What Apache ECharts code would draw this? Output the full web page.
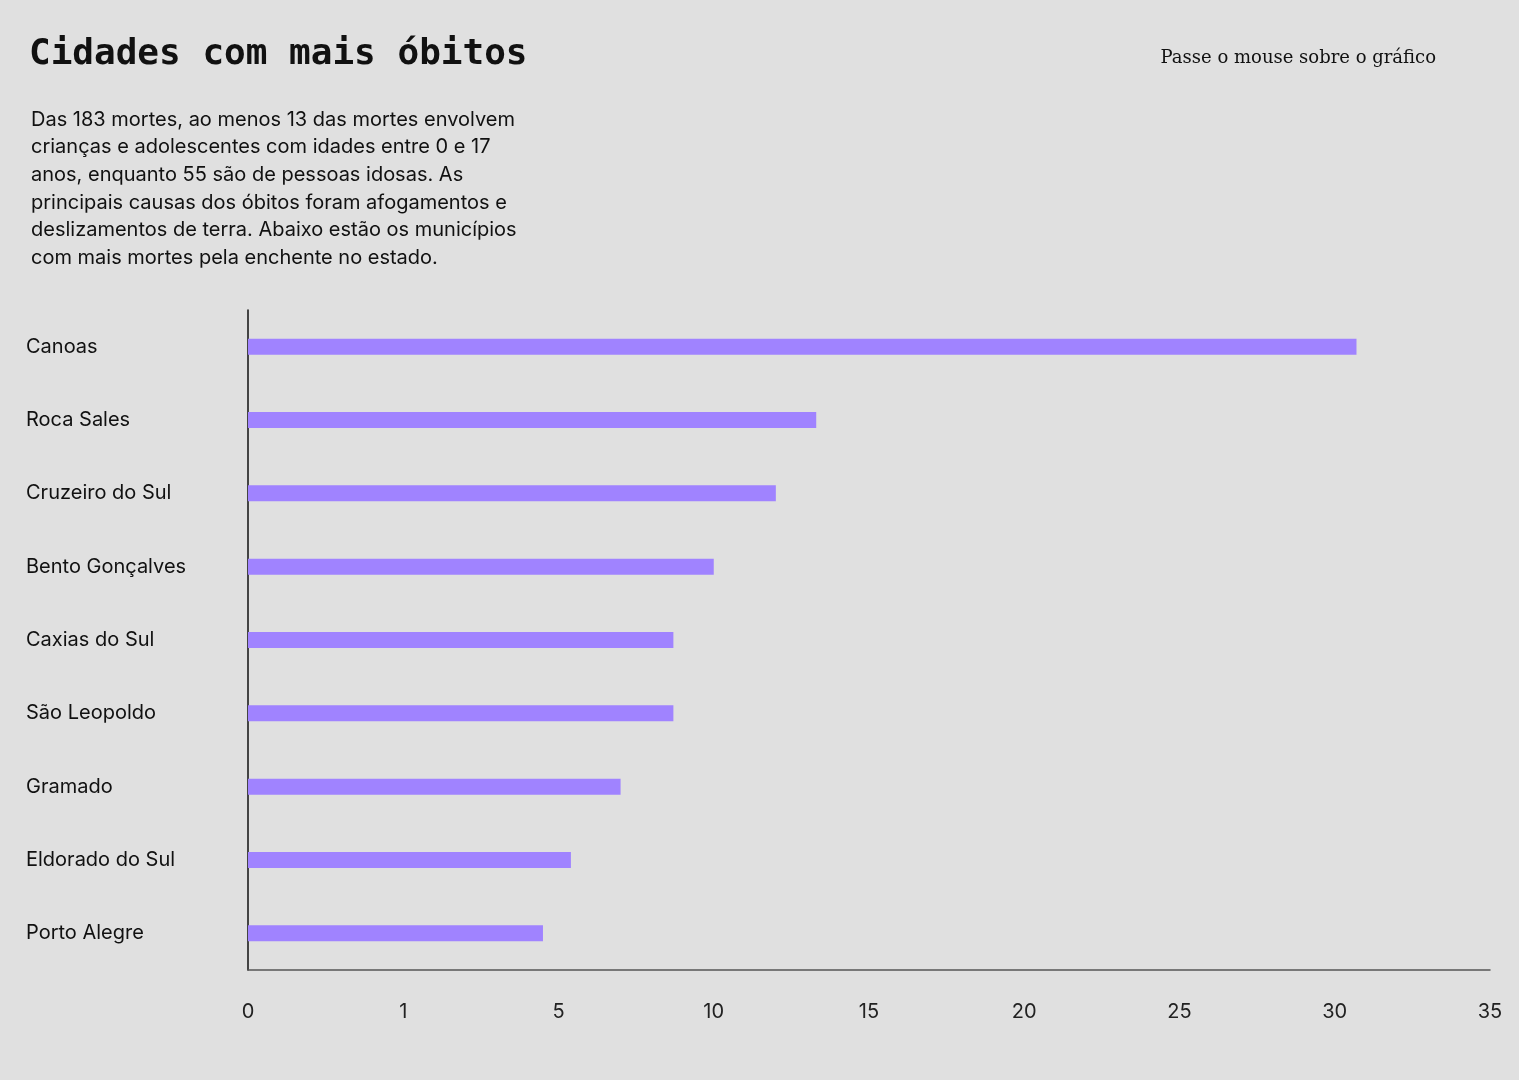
<!DOCTYPE html>
<html><head><meta charset="utf-8">
<script src="https://cdn.jsdelivr.net/npm/echarts@6/dist/echarts.min.js"></script>
<style>html,body{margin:0;background:#e0e0e0}#c{width:1519px;height:1080px}</style>
</head><body><div id="c"></div>
<script>
const categories = ["Canoas","Roca Sales","Cruzeiro do Sul","Bento Gonçalves","Caxias do Sul","São Leopoldo","Gramado","Eldorado do Sul","Porto Alegre"];
const deaths = [30.7, 13.3, 12, 10, 8.7, 8.7, 7, 5.4, 4.6];
const tickLabels = [0, 1, 5, 10, 15, 20, 25, 30, 35];
// piecewise scale: ticks equally spaced
function toIdx(v){
  for (let i=1;i<tickLabels.length;i++){
    if (v<=tickLabels[i]) return (i-1)+(v-tickLabels[i-1])/(tickLabels[i]-tickLabels[i-1]);
  }
  return tickLabels.length-1;
}
const chart = echarts.init(document.getElementById('c'));
chart.setOption({
  backgroundColor:'#e0e0e0',
  title:[{
    text:'Cidades com mais óbitos', left:24, top:32,
    textStyle:{fontFamily:'DejaVu Sans Mono',fontWeight:'bold',fontSize:36,color:'#111'}
  },{
    text:'Das 183 mortes, ao menos 13 das mortes envolvem\ncrianças e adolescentes com idades entre 0 e 17\nanos, enquanto 55 são de pessoas idosas. As\nprincipais causas dos óbitos foram afogamentos e\ndeslizamentos de terra. Abaixo estão os municípios\ncom mais mortes pela enchente no estado.',
    left:26, top:101,
    textStyle:{fontFamily:'Inter',fontWeight:'normal',fontSize:20,lineHeight:27.6,color:'#111'}
  },{
    text:'Passe o mouse sobre o gráfico', right:78, top:44,
    textStyle:{fontFamily:'DejaVu Serif',fontWeight:'normal',fontSize:18,color:'#111'}
  }],
  grid:{left:248,right:29,top:310,bottom:110},
  xAxis:{type:'value',min:0,max:8,interval:1,
    axisLine:{show:true,lineStyle:{color:'#555',width:1.5}},
    axisTick:{show:false},splitLine:{show:false},
    axisLabel:{margin:32,fontFamily:'Inter',fontSize:20,color:'#222',
      formatter:v=>String(tickLabels[Math.round(v)])}},
  yAxis:{type:'category',data:categories,inverse:true,
    axisLine:{show:true,lineStyle:{color:'#111',width:1.5}},
    axisTick:{show:false},
    axisLabel:{align:'left',margin:222,fontFamily:'Inter',fontSize:20,color:'#111'}},
  series:[{type:'bar',barWidth:16,data:deaths.map(toIdx),
    itemStyle:{color:'#a083ff'}}]
});
</script></body></html>
